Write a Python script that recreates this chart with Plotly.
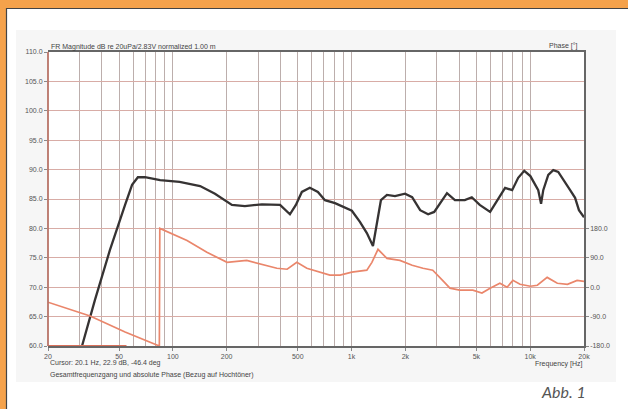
import plotly.graph_objects as go

# Magnitude response (dB) vs frequency (Hz)
mag_freq = [28, 31.0, 36.6, 44.4, 54.0, 59.1, 63.7, 69.8, 84.8, 109, 142, 172, 214, 253, 315,
            398, 452, 488, 527, 584, 648, 710, 808, 918, 1004, 1114, 1218, 1318, 1386, 1460,
            1578, 1750, 1992, 2183, 2421, 2682, 2902, 3128, 3421, 3790, 4304, 4710, 5217,
            5963, 6529, 7234, 7925, 8563, 9262, 10020, 10540, 11090, 11500, 11830, 12620,
            13460, 14350, 15520, 16730, 17830, 18740, 20000]
mag_db = [56.0, 60.0, 67.8, 76.3, 84.0, 87.4, 88.7, 88.7, 88.2, 87.9, 87.2, 85.9, 84.0, 83.8, 84.1,
          84.0, 82.4, 84.0, 86.2, 86.9, 86.2, 84.8, 84.3, 83.6, 83.0, 81.1, 79.2, 77.0, 80.6, 84.8,
          85.7, 85.5, 85.9, 85.3, 83.1, 82.4, 82.8, 84.3, 86.0, 84.8, 84.8, 85.3, 84.0,
          82.8, 84.8, 86.9, 86.5, 88.6, 89.8, 88.9, 87.7, 86.5, 84.2, 86.5, 89.1,
          89.9, 89.6, 87.9, 86.5, 85.2, 83.1, 81.9]

# Absolute phase (deg) vs frequency (Hz), wrapped at +/-180
phase_freq = [20, 34.4, 54.0, 81.6, 84.0, 84.5, 86, 120, 155, 201, 259, 315, 382, 436, 494, 562,
              666, 756, 862, 1004, 1218, 1300, 1406, 1578, 1865, 2183, 2512, 2848, 3232, 3554,
              4027, 4773, 5367, 5963, 6762, 7424, 8000, 8768, 10020, 10960, 12440, 14180,
              16160, 18300, 20000]
phase_deg = [-46, -88, -137, -177, -180, 180, 178, 143, 107, 76, 82, 70, 58, 55, 76, 58,
             46, 37, 37, 46, 52, 76, 116, 88, 82, 67, 58, 52, 21, -3,
             -9, -9, -18, -3, 12, 0, 21, 9, 3, 6, 30, 12,
             9, 21, 18]

# Phase floor segment at the lower limit
floor_freq = [20, 55]
floor_deg = [-180, -180]

# Axis tick labels
x_ticks = [20, 50, 100, 200, 500, 1000, 2000, 5000, 10000, 20000]
x_labels = ["20", "50", "100", "200", "500", "1k", "2k", "5k", "10k", "20k"]
mag_ticks = [60, 65, 70, 75, 80, 85, 90, 95, 100, 105, 110]
phase_ticks = [-180, -90, 0, 90, 180]

minor_grid = [m * d for d in (10, 100, 1000, 10000) for m in range(1, 10)
              if 20 <= m * d <= 20000 and m * d not in x_ticks]

W, H = 628, 409
L, R, T, B = 48, 584, 52, 346          # plot area in pixels
ORANGE = "#F5A24B"
HGRID = "#d8aca6"
VGRID = "#bcaeac"
TXT = "#555555"
tick_font = dict(family="Liberation Sans", size=7, color=TXT)


def px(x):
    """pixel column -> paper x (paper spans the plot area)"""
    return (x - L) / (R - L)


def py(y):
    """pixel row -> paper y"""
    return (B - y) / (B - T)


fig = go.Figure()
fig.add_trace(go.Scatter(x=mag_freq, y=mag_db, mode="lines",
                         line=dict(color="#363333", width=2.3), yaxis="y", showlegend=False))
fig.add_trace(go.Scatter(x=phase_freq, y=phase_deg, mode="lines",
                         line=dict(color="#ea866b", width=1.7), yaxis="y2", showlegend=False))
fig.add_trace(go.Scatter(x=floor_freq, y=floor_deg, mode="lines",
                         line=dict(color="#d9705a", width=2.2), yaxis="y2", showlegend=False))

shapes = [
    # light grey chart panel with white plot area on top
    dict(type="rect", xref="paper", yref="paper", x0=px(16), x1=px(616), y0=py(382), y1=py(30),
         fillcolor="#f6f6f6", line=dict(width=0), layer="below"),
    dict(type="rect", xref="paper", yref="paper", x0=0, x1=1, y0=0, y1=1,
         fillcolor="white", line=dict(width=0), layer="below"),
    # orange frame (top and left)
    dict(type="rect", xref="paper", yref="paper", x0=px(0), x1=px(W), y0=py(8), y1=py(0),
         fillcolor=ORANGE, line=dict(width=0)),
    dict(type="rect", xref="paper", yref="paper", x0=px(0), x1=px(6), y0=py(H), y1=py(0),
         fillcolor=ORANGE, line=dict(width=0)),
    dict(type="line", xref="paper", yref="paper", x0=px(6), x1=px(W), y0=py(8.5), y1=py(8.5),
         line=dict(color="#444444", width=1.2)),
    dict(type="line", xref="paper", yref="paper", x0=px(6.5), x1=px(6.5), y0=py(H), y1=py(8),
         line=dict(color="#444444", width=1.2)),
    # left axis edge
    dict(type="line", xref="paper", yref="paper", x0=0, x1=0, y0=0, y1=1,
         line=dict(color="#b87468", width=1.8)),
]

note_font = dict(family="Liberation Sans", size=7, color="#444")
annotations = [
    dict(text="FR Magnitude dB re 20uPa/2.83V normalized 1.00 m", xref="paper", yref="paper",
         x=px(49), y=py(47), xanchor="left", yanchor="middle", showarrow=False, font=note_font),
    dict(text="Phase [°]", xref="paper", yref="paper", x=px(580), y=py(46),
         xanchor="right", yanchor="middle", showarrow=False, font=note_font),
    dict(text="Frequency [Hz]", xref="paper", yref="paper", x=px(585), y=py(364),
         xanchor="right", yanchor="middle", showarrow=False, font=note_font),
    dict(text="Cursor: 20.1 Hz, 22.9 dB, -46.4 deg", xref="paper", yref="paper",
         x=px(48), y=py(363), xanchor="left", yanchor="middle", showarrow=False, font=note_font),
    dict(text="Gesamtfrequenzgang und absolute Phase (Bezug auf Hochtöner)", xref="paper",
         yref="paper", x=px(48), y=py(375), xanchor="left", yanchor="middle", showarrow=False,
         font=note_font),
    dict(text="<i>Abb. 1</i>", xref="paper", yref="paper", x=px(588), y=py(391),
         xanchor="right", yanchor="middle", showarrow=False,
         font=dict(family="Lato", size=16, color="#555")),
]

fig.update_layout(
    width=W, height=H,
    margin=dict(l=L, r=W - R, t=T, b=H - B),
    paper_bgcolor="white", plot_bgcolor="white",
    xaxis=dict(type="log", range=[1.30103, 4.30103], tickvals=x_ticks, ticktext=x_labels,
               tickfont=tick_font, showgrid=True, gridcolor=VGRID, gridwidth=1.2,
               minor=dict(tickvals=minor_grid, showgrid=True, gridcolor=VGRID, gridwidth=1,
                          ticks=""),
               showline=True, mirror=True, linecolor="#666", linewidth=1.5,
               ticks="outside", ticklen=3, tickcolor="#888", zeroline=False),
    yaxis=dict(range=[60, 110], tickvals=mag_ticks, ticktext=[f"{v:.1f}" for v in mag_ticks],
               tickfont=tick_font, showgrid=True, gridcolor=HGRID, gridwidth=1.2,
               showline=False, ticks="outside", ticklen=3, tickcolor="#888", zeroline=False),
    yaxis2=dict(range=[-180, 720], overlaying="y", side="right", tickvals=phase_ticks,
                ticktext=[f"{v:.1f}" for v in phase_ticks], tickfont=tick_font,
                showgrid=False, showline=True, linecolor="#666", linewidth=1.5,
                ticks="outside", ticklen=3, tickcolor="#888", zeroline=False),
    shapes=shapes, annotations=annotations, showlegend=False,
)

fig.write_html("out.html")
